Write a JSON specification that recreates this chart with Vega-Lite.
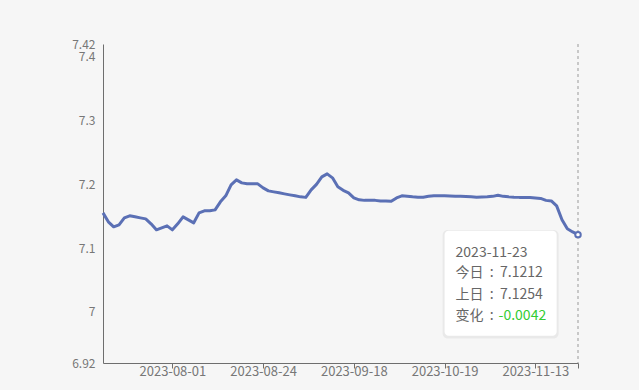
{
  "$schema": "https://vega.github.io/schema/vega-lite/v6.json",
  "width": 475,
  "height": 319,
  "autosize": {"type": "none"},
  "padding": {"left": 103, "top": 44, "right": 61, "bottom": 27},
  "background": "#f6f6f6",
  "config": {"view": {"stroke": null}, "font": "Noto Sans CJK SC"},
  "datasets": {
    "rates": [
      {"date": "2023-07-13", "rate": 7.1553},
      {"date": "2023-07-14", "rate": 7.1413},
      {"date": "2023-07-17", "rate": 7.1334},
      {"date": "2023-07-18", "rate": 7.1366},
      {"date": "2023-07-19", "rate": 7.1475},
      {"date": "2023-07-20", "rate": 7.1507},
      {"date": "2023-07-21", "rate": 7.1491},
      {"date": "2023-07-24", "rate": 7.1475},
      {"date": "2023-07-25", "rate": 7.1459},
      {"date": "2023-07-26", "rate": 7.1381},
      {"date": "2023-07-27", "rate": 7.1287},
      {"date": "2023-07-28", "rate": 7.1319},
      {"date": "2023-07-31", "rate": 7.1350},
      {"date": "2023-08-01", "rate": 7.1287},
      {"date": "2023-08-02", "rate": 7.1381},
      {"date": "2023-08-03", "rate": 7.1491},
      {"date": "2023-08-04", "rate": 7.1444},
      {"date": "2023-08-07", "rate": 7.1397},
      {"date": "2023-08-08", "rate": 7.1553},
      {"date": "2023-08-09", "rate": 7.1585},
      {"date": "2023-08-10", "rate": 7.1585},
      {"date": "2023-08-11", "rate": 7.1600},
      {"date": "2023-08-14", "rate": 7.1726},
      {"date": "2023-08-15", "rate": 7.1820},
      {"date": "2023-08-16", "rate": 7.1992},
      {"date": "2023-08-17", "rate": 7.2070},
      {"date": "2023-08-18", "rate": 7.2023},
      {"date": "2023-08-21", "rate": 7.2008},
      {"date": "2023-08-22", "rate": 7.2008},
      {"date": "2023-08-23", "rate": 7.2008},
      {"date": "2023-08-24", "rate": 7.1945},
      {"date": "2023-08-25", "rate": 7.1898},
      {"date": "2023-08-28", "rate": 7.1882},
      {"date": "2023-08-29", "rate": 7.1867},
      {"date": "2023-08-30", "rate": 7.1851},
      {"date": "2023-08-31", "rate": 7.1835},
      {"date": "2023-09-01", "rate": 7.1820},
      {"date": "2023-09-04", "rate": 7.1804},
      {"date": "2023-09-05", "rate": 7.1796},
      {"date": "2023-09-06", "rate": 7.1914},
      {"date": "2023-09-07", "rate": 7.2000},
      {"date": "2023-09-08", "rate": 7.2117},
      {"date": "2023-09-11", "rate": 7.2164},
      {"date": "2023-09-12", "rate": 7.2102},
      {"date": "2023-09-13", "rate": 7.1961},
      {"date": "2023-09-14", "rate": 7.1906},
      {"date": "2023-09-15", "rate": 7.1867},
      {"date": "2023-09-18", "rate": 7.1788},
      {"date": "2023-09-19", "rate": 7.1757},
      {"date": "2023-09-20", "rate": 7.1749},
      {"date": "2023-09-21", "rate": 7.1749},
      {"date": "2023-09-22", "rate": 7.1749},
      {"date": "2023-09-25", "rate": 7.1741},
      {"date": "2023-09-26", "rate": 7.1741},
      {"date": "2023-09-27", "rate": 7.1734},
      {"date": "2023-09-28", "rate": 7.1788},
      {"date": "2023-10-09", "rate": 7.1820},
      {"date": "2023-10-10", "rate": 7.1812},
      {"date": "2023-10-11", "rate": 7.1804},
      {"date": "2023-10-12", "rate": 7.1799},
      {"date": "2023-10-13", "rate": 7.1799},
      {"date": "2023-10-16", "rate": 7.1812},
      {"date": "2023-10-17", "rate": 7.1820},
      {"date": "2023-10-18", "rate": 7.1820},
      {"date": "2023-10-19", "rate": 7.1820},
      {"date": "2023-10-20", "rate": 7.1817},
      {"date": "2023-10-23", "rate": 7.1815},
      {"date": "2023-10-24", "rate": 7.1812},
      {"date": "2023-10-25", "rate": 7.1809},
      {"date": "2023-10-26", "rate": 7.1804},
      {"date": "2023-10-27", "rate": 7.1799},
      {"date": "2023-10-30", "rate": 7.1801},
      {"date": "2023-10-31", "rate": 7.1804},
      {"date": "2023-11-01", "rate": 7.1812},
      {"date": "2023-11-02", "rate": 7.1828},
      {"date": "2023-11-03", "rate": 7.1812},
      {"date": "2023-11-06", "rate": 7.1804},
      {"date": "2023-11-07", "rate": 7.1799},
      {"date": "2023-11-08", "rate": 7.1796},
      {"date": "2023-11-09", "rate": 7.1796},
      {"date": "2023-11-10", "rate": 7.1795},
      {"date": "2023-11-13", "rate": 7.1788},
      {"date": "2023-11-14", "rate": 7.1780},
      {"date": "2023-11-15", "rate": 7.1749},
      {"date": "2023-11-16", "rate": 7.1741},
      {"date": "2023-11-17", "rate": 7.1663},
      {"date": "2023-11-20", "rate": 7.1444},
      {"date": "2023-11-21", "rate": 7.1303},
      {"date": "2023-11-22", "rate": 7.1254},
      {"date": "2023-11-23", "rate": 7.1212}
    ],
    "last": [
      {"date": "2023-11-23", "rate": 7.1212}
    ]
  },
  "data": {"name": "rates"},
  "layer": [
    {
      "mark": {"type": "rule", "color": "#9a9a9a", "strokeDash": [3, 3], "strokeWidth": 1},
      "data": {"name": "last"},
      "encoding": {
        "x": {"field": "date", "type": "ordinal"}
      }
    },
    {
      "mark": {"type": "line", "color": "#5b70b5", "strokeWidth": 3, "strokeJoin": "round"},
      "encoding": {
        "x": {
          "field": "date",
          "type": "ordinal",
          "scale": {"type": "point", "padding": 0},
          "axis": {
            "title": null,
            "values": ["2023-08-01", "2023-08-24", "2023-09-18", "2023-10-19", "2023-11-13", "2023-11-23"],
            "labelExpr": "datum.value == '2023-11-23' ? '' : datum.label",
            "labelAngle": 0,
            "labelAlign": "center",
            "labelOverlap": false,
            "labelBound": false,
            "labelFlush": false,
            "domainColor": "#6e6e6e",
            "tickColor": "#6e6e6e",
            "tickSize": 5,
            "labelColor": "#777777",
            "labelFontSize": 13,
            "labelPadding": 3,
            "grid": false
          }
        },
        "y": {
          "field": "rate",
          "type": "quantitative",
          "scale": {"domain": [6.92, 7.42], "nice": false, "zero": false},
          "axis": {
            "title": null,
            "values": [6.92, 7, 7.1, 7.2, 7.3, 7.4, 7.42],
            "format": ".2~f",
            "ticks": false,
            "grid": false,
            "labelOverlap": false,
            "labelFlush": false,
            "labelBound": false,
            "domainColor": "#6e6e6e",
            "labelColor": "#777777",
            "labelFontSize": 12,
            "labelPadding": 8
          }
        }
      }
    },
    {
      "mark": {"type": "point", "filled": true, "fill": "#ffffff", "stroke": "#5b70b5", "strokeWidth": 2, "size": 30, "opacity": 1},
      "data": {"name": "last"},
      "encoding": {
        "x": {"field": "date", "type": "ordinal"},
        "y": {"field": "rate", "type": "quantitative"}
      }
    },
    {
      "data": {"values": [{}]},
      "mark": {"type": "rect", "fill": "#000000", "opacity": 0.05, "cornerRadius": 5, "x2Offset": 2, "y2Offset": 2, "xOffset": -2},
      "encoding": {
        "x": {"datum": "2023-10-19", "type": "ordinal"},
        "x2": {"datum": "2023-11-17"},
        "y": {"datum": 7.1285, "type": "quantitative"},
        "y2": {"datum": 6.9615}
      }
    },
    {
      "data": {"values": [{}]},
      "mark": {"type": "rect", "fill": "#ffffff", "cornerRadius": 4},
      "encoding": {
        "x": {"datum": "2023-10-19", "type": "ordinal"},
        "x2": {"datum": "2023-11-17"},
        "y": {"datum": 7.1272, "type": "quantitative"},
        "y2": {"datum": 6.9627}
      }
    },
    {
      "data": {"values": [{}]},
      "mark": {"type": "text", "align": "left", "baseline": "middle", "dx": 11, "fontSize": 14, "color": "#666666"},
      "encoding": {
        "x": {"datum": "2023-10-19", "type": "ordinal"},
        "y": {"datum": 7.0927, "type": "quantitative"},
        "text": {"value": "2023-11-23"}
      }
    },
    {
      "data": {"values": [{}]},
      "mark": {"type": "text", "align": "left", "baseline": "middle", "dx": 11, "fontSize": 14, "color": "#666666"},
      "encoding": {
        "x": {"datum": "2023-10-19", "type": "ordinal"},
        "y": {"datum": 7.0614, "type": "quantitative"},
        "text": {"value": "今日\u2005\u2009:\u2005\u20097.1212"}
      }
    },
    {
      "data": {"values": [{}]},
      "mark": {"type": "text", "align": "left", "baseline": "middle", "dx": 11, "fontSize": 14, "color": "#666666"},
      "encoding": {
        "x": {"datum": "2023-10-19", "type": "ordinal"},
        "y": {"datum": 7.0270, "type": "quantitative"},
        "text": {"value": "上日\u2005\u2009:\u2005\u20097.1254"}
      }
    },
    {
      "data": {"values": [{}]},
      "mark": {"type": "text", "align": "left", "baseline": "middle", "dx": 11, "fontSize": 14, "color": "#666666"},
      "encoding": {
        "x": {"datum": "2023-10-19", "type": "ordinal"},
        "y": {"datum": 6.9940, "type": "quantitative"},
        "text": {"value": "变化\u2005\u2009:"}
      }
    },
    {
      "data": {"values": [{}]},
      "mark": {"type": "text", "align": "left", "baseline": "middle", "dx": 54, "fontSize": 14, "color": "#33cc33"},
      "encoding": {
        "x": {"datum": "2023-10-19", "type": "ordinal"},
        "y": {"datum": 6.9940, "type": "quantitative"},
        "text": {"value": "-0.0042"}
      }
    }
  ]
}
